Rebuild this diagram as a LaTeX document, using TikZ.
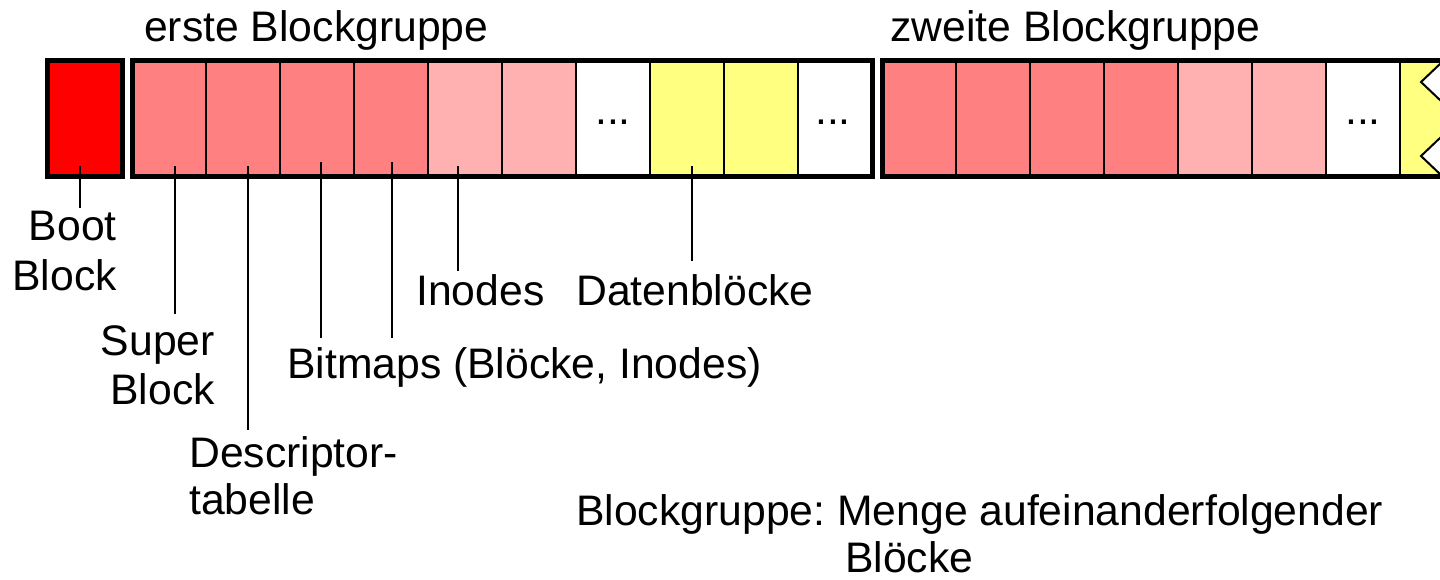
\documentclass[tikz,border=0pt]{standalone}
\usepackage{fontspec}
\setmainfont{Liberation Sans}
\frenchspacing
\definecolor{bootred}{RGB}{255,0,0}
\definecolor{meta}{RGB}{255,128,128}
\definecolor{inodecol}{RGB}{255,176,176}
\definecolor{datacol}{RGB}{255,255,128}
\begin{document}
\frenchspacing
\begin{tikzpicture}[x=1pt,y=-1pt,
  lbl/.style={inner sep=0pt, font=\fontsize{42.7}{49}\selectfont\frenchspacing},
  divider/.style={draw=black, line width=2.2pt},
  frame/.style={draw=black, line width=5pt},
  leader/.style={draw=black, line width=1.6pt},
  tear/.style={draw=black, line width=2pt}]
\useasboundingbox (0,0) rectangle (1440,579);
\begin{scope}
\clip (0,0) rectangle (1440,579);
% boot block
\path[fill=bootred] (47.7,60.5) rectangle (122,176);
\draw[frame] (47.7,60.5) rectangle (122,176);
% first group
\foreach \i/\c in {0/meta,1/meta,2/meta,3/meta,4/inodecol,5/inodecol,6/white,7/datacol,8/datacol,9/white}
  \path[fill=\c] ({132+74*\i},60.5) rectangle ({206+74*\i},176);
\foreach \i in {1,...,9}
  \draw[divider] ({132+74*\i},60.5) -- ({132+74*\i},176);
\draw[frame] (132,60.5) rectangle (872,176);
% second group
\foreach \i/\c in {0/meta,1/meta,2/meta,3/meta,4/inodecol,5/inodecol,6/white}
  \path[fill=\c] ({882+74*\i},60.5) rectangle ({956+74*\i},176);
\path[fill=datacol] (1400,60.5) rectangle (1450,176);
\foreach \i in {1,...,7}
  \draw[divider] ({882+74*\i},60.5) -- ({882+74*\i},176);
% torn edge
\fill[white] (1441,63) -- (1421,82) -- (1441,101) -- cycle;
\fill[white] (1441,137) -- (1421,156) -- (1441,175) -- cycle;
\draw[tear] (1441,63) -- (1421,82) -- (1441,101);
\draw[tear] (1441,137) -- (1421,156) -- (1441,175);
\draw[frame] (1450,60.5) -- (882,60.5) -- (882,176) -- (1450,176);
\end{scope}
% dots
\node[lbl, anchor=base] (dotsA) at (613,124) {...};
\node[lbl, anchor=base] (dotsB) at (833,124) {...};
\node[lbl, anchor=base] (dotsC) at (1363,124) {...};
% headings
\node[lbl, anchor=base west] (grpA) at (144,41) {erste Blockgruppe};
\node[lbl, anchor=base west] (grpB) at (890,41) {zweite Blockgruppe};
% labels
\node[lbl, anchor=base east] (bootL1) at (117,240) {Boot};
\node[lbl, anchor=base east] (bootL2) at (117,290) {Block};
\node[lbl, anchor=base east] (supL1) at (215,355) {Super};
\node[lbl, anchor=base east] (supL2) at (215,404) {Block};
\node[lbl, anchor=base west] (descL1) at (189,467) {Descriptor-};
\node[lbl, anchor=base west] (descL2) at (189,514) {tabelle};
\node[lbl, anchor=base west] (bitL) at (287,378) {Bitmaps (Blöcke, Inodes)};
\node[lbl, anchor=base west] (inoL) at (416,305) {Inodes};
\node[lbl, anchor=base west] (datL) at (576,305) {Datenblöcke};
\node[lbl, anchor=base west] (defL1) at (576,525) {Blockgruppe: Menge aufeinanderfolgender};
\node[lbl, anchor=base west] (defL2) at (845,572) {Blöcke};
% leader coordinates
\coordinate (bootA) at (80,166);   \coordinate (bootB) at (80,208);
\coordinate (supA) at (175,166);   \coordinate (supB) at (175,314);
\coordinate (descA) at (248,166);  \coordinate (descB) at (248,430);
\coordinate (bitA) at (321,162);   \coordinate (bitB) at (321,338);
\coordinate (bitC) at (392,162);   \coordinate (bitD) at (392,338);
\coordinate (inoA) at (458,166);   \coordinate (inoB) at (458,271);
\coordinate (datA) at (692,166);   \coordinate (datB) at (692,261);
\draw[leader] (bootA) -- (bootB);
\draw[leader] (supA) -- (supB);
\draw[leader] (descA) -- (descB);
\draw[leader] (bitA) -- (bitB);
\draw[leader] (bitC) -- (bitD);
\draw[leader] (inoA) -- (inoB);
\draw[leader] (datA) -- (datB);
\end{tikzpicture}
\end{document}
